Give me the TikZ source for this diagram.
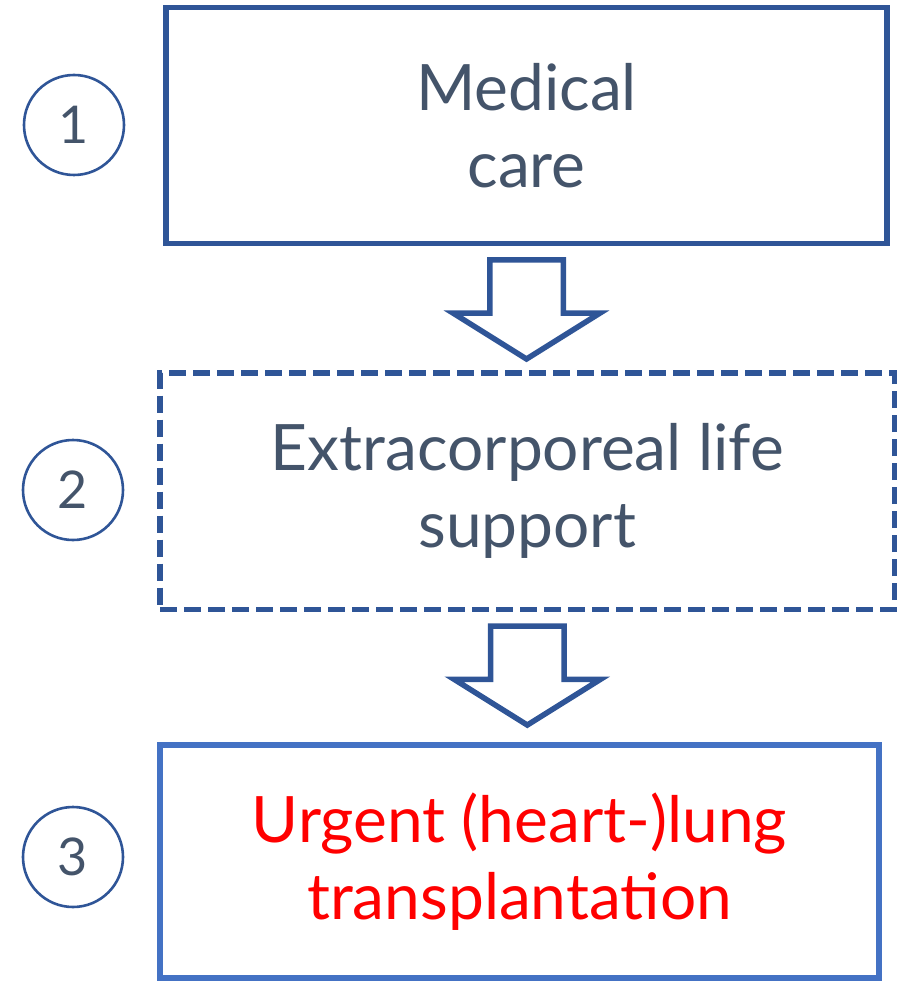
\documentclass[tikz,border=0pt]{standalone}
\usepackage{fontspec}
\setmainfont{Lato}
\usetikzlibrary{positioning, calc, shapes.arrows}
\definecolor{darkblue}{HTML}{2F5597}
\definecolor{midblue}{HTML}{4472C4}
\definecolor{slate}{HTML}{44546A}

\begin{document}
\begin{tikzpicture}[x=1pt, y=-1pt,
	box/.style={draw=darkblue, line width=5.5pt, text=slate, align=center, inner sep=0pt,
				font=\fontsize{64}{77}\selectfont},
	num/.style={circle, draw=darkblue, line width=2.6pt, minimum size=100pt, inner sep=0pt,
				text=slate, font=\fontsize{52}{60}\selectfont},
	down/.style={single arrow, draw=darkblue, line width=5.5pt, rotate=-90, inner sep=34pt,
				minimum height=99pt, single arrow head extend=36.5pt, single arrow tip angle=116,
				anchor=tail} ]
	\useasboundingbox (0,0) rectangle (907,981);

	%Etapas:
	\node[box, minimum width=721pt, minimum height=236pt]   (care) at (526.5,125.5) {Medical\\care};
	\node[box, dash pattern=on 17pt off 7pt,
		  minimum width=734.5pt, minimum height=236.5pt]   (ecls) at (527.3,491.3) {Extracorporeal life\\support};
	\node[box, draw=midblue, text=red,
		  minimum width=719pt, minimum height=233pt]       (ltx)  at (519.5,861.5) {Urgent (heart-)lung\\transplantation};

	%Numeros:
	\node[num] (n1) at (74,125) {1};
	\node[num] (n2) at (73,490) {2};
	\node[num] (n3) at (73,857) {3};

	%Setas entre etapas:
	\node[down] (a1) at ($(care.south)+(0,11)$) {};
	\node[down] (a2) at ($(ecls.south)+(0,11)$) {};
\end{tikzpicture}
\end{document}
